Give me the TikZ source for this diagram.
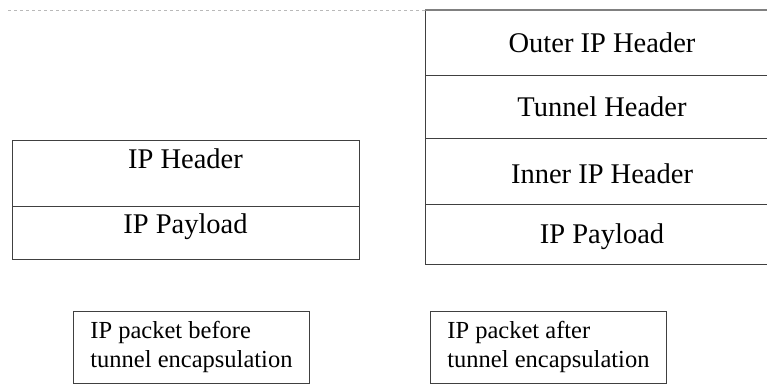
\documentclass[tikz,border=0pt]{standalone}
\usepackage{fontspec}
\setmainfont{Liberation Serif}
\usetikzlibrary{positioning}

\begin{document}
\begin{tikzpicture}[x=1pt,y=-1pt]
    \tikzset{
      cell/.style={draw=black!75, line width=0.8pt, inner sep=0pt, outer sep=0pt, anchor=north west,
        font=\fontsize{28.5}{32}\selectfont},
      caption/.style={draw=black!75, line width=0.8pt, anchor=north west, align=left,
        inner xsep=17pt, minimum height=72pt, font=\fontsize{24.5}{29}\selectfont}
    }
    \clip (0,0) rectangle (767,385);
    % packet before encapsulation
    \node[cell, minimum width=347pt, text height=28pt, text depth=38pt] (iphdr) at (12,140) {IP Header};
    \node[cell, minimum width=347pt, text height=27pt, text depth=26pt, below=0pt of iphdr] (ippay) {IP Payload};
    % packet after encapsulation
    \node[cell, minimum width=354pt, text height=43pt, text depth=22pt] (outer) at (425,10) {Outer IP Header};
    \node[cell, minimum width=354pt, text height=42pt, text depth=21pt, below=0pt of outer] (tunnel) {Tunnel Header};
    \node[cell, minimum width=354pt, text height=45pt, text depth=21pt, below=0pt of tunnel] (inner) {Inner IP Header};
    \node[cell, minimum width=354pt, text height=39pt, text depth=21pt, below=0pt of inner] (tunpay) {IP Payload};
    \draw[gray!55, dashed, line width=0.7pt] (8,10) -- (outer.north west);
    \draw[gray, line width=1.2pt] (outer.north west) -- (outer.north east);
    % captions
    \node[caption] (before) at (73,311) {IP packet before\\tunnel encapsulation};
    \node[caption] (after) at (430,311) {IP packet after\\tunnel encapsulation};
\end{tikzpicture}
\end{document}
